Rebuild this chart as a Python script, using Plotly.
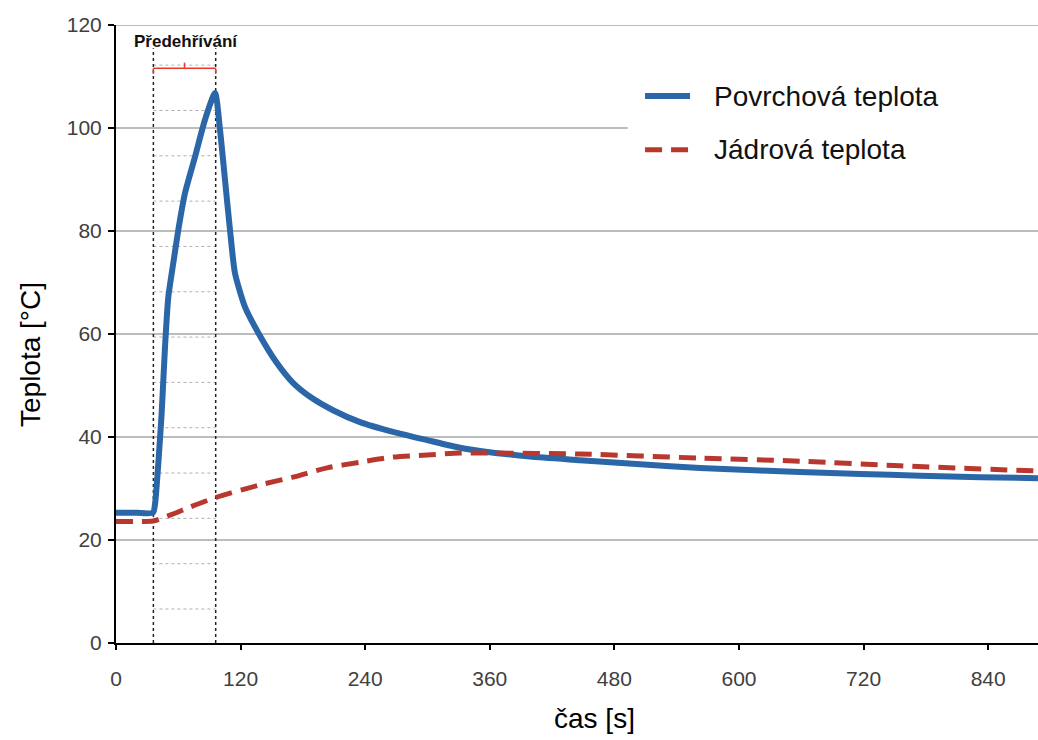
import plotly.graph_objects as go

# ---- data ----
surface_t = [0, 20, 35.6, 37.6, 40.8, 44.0, 47.2, 50.4, 55.2, 60.0, 66.5, 76.1, 85.7, 95.4,
             100.2, 105.0, 109.8, 114.6, 124.3, 137.1, 154.8, 170.5, 186.9, 209.0, 235.0,
             266.9, 299.6, 331.4, 350.7, 398.8, 447.0, 504.8, 562.6, 620.4, 659.0, 716.8,
             774.6, 832.4, 888.0]
surface_T = [25.3, 25.3, 25.3, 27.0, 35.0, 44.7, 57.5, 67.2, 73.8, 80.2, 87.4, 94.4, 101.6, 106.8,
             99.6, 89.9, 80.2, 71.8, 65.2, 60.2, 54.4, 50.5, 47.8, 45.2, 42.9,
             41.0, 39.4, 37.9, 37.3, 36.2, 35.5, 34.7, 34.0, 33.5, 33.2, 32.8,
             32.5, 32.2, 32.0]

core_t = [0, 20, 35.6, 42.4, 56.8, 71.3, 95.4, 138.7, 170.5, 203.3, 235.0, 266.9, 299.6,
          331.4, 350.7, 447.0, 562.6, 659.0, 755.0, 888.0]
core_T = [23.6, 23.6, 23.7, 24.1, 25.2, 26.4, 28.2, 30.7, 32.2, 34.0, 35.1, 36.1, 36.5,
          36.9, 36.9, 36.7, 35.9, 35.3, 34.4, 33.4]

series_names = ["Povrchová teplota", "Jádrová teplota"]
x_ticks = [0, 120, 240, 360, 480, 600, 720, 840]
y_ticks = [0, 20, 40, 60, 80, 100, 120]

preheat_start, preheat_end = 36, 96
preheat_label = "Předehřívání"
minor_dotted_y = [6.6, 15.4, 24.2, 33.0, 41.8, 50.6, 59.4, 68.2, 77.0, 85.8, 94.6, 103.4, 112.2]

FONT = "Liberation Sans, Arial, sans-serif"
BLUE = "#2b66a8"
RED = "#b8382e"
RED_DASH = "17px,9px"

fig = go.Figure()
fig.add_trace(go.Scatter(x=surface_t, y=surface_T, mode="lines", name=series_names[0],
                         line=dict(color=BLUE, width=6, shape="spline", smoothing=0.6),
                         showlegend=False))
fig.add_trace(go.Scatter(x=core_t, y=core_T, mode="lines", name=series_names[1],
                         line=dict(color=RED, width=5, dash=RED_DASH, shape="spline",
                                   smoothing=0.8),
                         showlegend=False))

shapes = []
# horizontal gridlines (the one at 100 is interrupted by the legend area)
for yv in y_ticks[1:]:
    x1 = 0.555 if yv == 100 else 1.0
    shapes.append(dict(type="line", xref="paper", yref="y", x0=0, x1=x1, y0=yv, y1=yv,
                       line=dict(color="#a6a6a6", width=1.5), layer="below"))
# light dotted horizontal lines inside the preheating window
for yv in minor_dotted_y:
    shapes.append(dict(type="line", xref="x", yref="y", x0=preheat_start, x1=preheat_end,
                       y0=yv, y1=yv, line=dict(color="#b0b0b0", width=1, dash="dot"),
                       layer="below"))
# vertical dotted borders of the preheating window
for xv in (preheat_start, preheat_end):
    shapes.append(dict(type="line", xref="x", yref="y", x0=xv, x1=xv, y0=0, y1=115.5,
                       line=dict(color="#222222", width=1.5, dash="dot"), layer="below"))
# red bracket
br_y = 111.6
mid = (preheat_start + preheat_end) / 2
shapes += [
    dict(type="line", xref="x", yref="y", x0=preheat_start, x1=preheat_end, y0=br_y, y1=br_y,
         line=dict(color="#e8392f", width=1.5)),
    dict(type="line", xref="x", yref="y", x0=preheat_start, x1=preheat_start, y0=br_y, y1=br_y - 1.1,
         line=dict(color="#e8392f", width=1.5)),
    dict(type="line", xref="x", yref="y", x0=preheat_end, x1=preheat_end, y0=br_y, y1=br_y - 1.1,
         line=dict(color="#e8392f", width=1.5)),
    dict(type="line", xref="x", yref="y", x0=mid, x1=mid, y0=br_y, y1=br_y + 1.1,
         line=dict(color="#e8392f", width=1.5)),
]
# legend (drawn manually: sample line + label)
legend_rows = [(0.885, BLUE, None, 6), (0.798, RED, RED_DASH, 5)]
for (ly, col, dash, w) in legend_rows:
    ln = dict(color=col, width=w)
    if dash:
        ln["dash"] = dash
    shapes.append(dict(type="line", xref="paper", yref="paper", x0=0.5738, x1=0.6226,
                       y0=ly, y1=ly, line=ln))

annotations = [
    dict(text=preheat_label, x=mid + 1, y=116.8, xref="x", yref="y",
         showarrow=False, font=dict(family=FONT, size=17, color="#111111", weight="bold"),
         xanchor="center", yanchor="middle"),
    dict(text="Teplota [°C]", xref="paper", yref="paper", x=(30 - 116) / 922, y=0.466,
         textangle=-90, showarrow=False, xanchor="center", yanchor="middle",
         font=dict(family=FONT, size=28, color="#000000")),
    dict(text="čas [s]", xref="paper", yref="paper", x=(594 - 116) / 922, y=-(718 - 643) / 618,
         showarrow=False, xanchor="center", yanchor="middle",
         font=dict(family=FONT, size=28, color="#000000")),
]
for (ly, _, _, _), name in zip(legend_rows, series_names):
    annotations.append(dict(text=name, xref="paper", yref="paper", x=0.6464, y=ly,
                            xanchor="left", yanchor="middle", showarrow=False,
                            font=dict(family=FONT, size=28, color="#111111")))

fig.update_layout(
    width=1038, height=740,
    margin=dict(l=116, r=0, t=25, b=97),
    paper_bgcolor="white", plot_bgcolor="white",
    font=dict(family=FONT),
    shapes=shapes, annotations=annotations,
    showlegend=False,
    xaxis=dict(range=[0, 888], tickvals=x_ticks, ticktext=[str(v) for v in x_ticks],
               showgrid=False, zeroline=False, showline=True, linecolor="black", linewidth=2,
               ticks="outside", ticklen=5, tickwidth=2, tickcolor="black",
               tickfont=dict(family=FONT, size=21, color="#404040"), ticklabelstandoff=11),
    yaxis=dict(range=[0, 120], tickvals=y_ticks, ticktext=[str(v) for v in y_ticks],
               showgrid=False, zeroline=False,
               showline=True, linecolor="black", linewidth=2,
               ticks="outside", ticklen=6, tickwidth=2, tickcolor="black",
               tickfont=dict(family=FONT, size=21, color="#404040"), ticklabelstandoff=2),
)

fig.write_html("out.html")
